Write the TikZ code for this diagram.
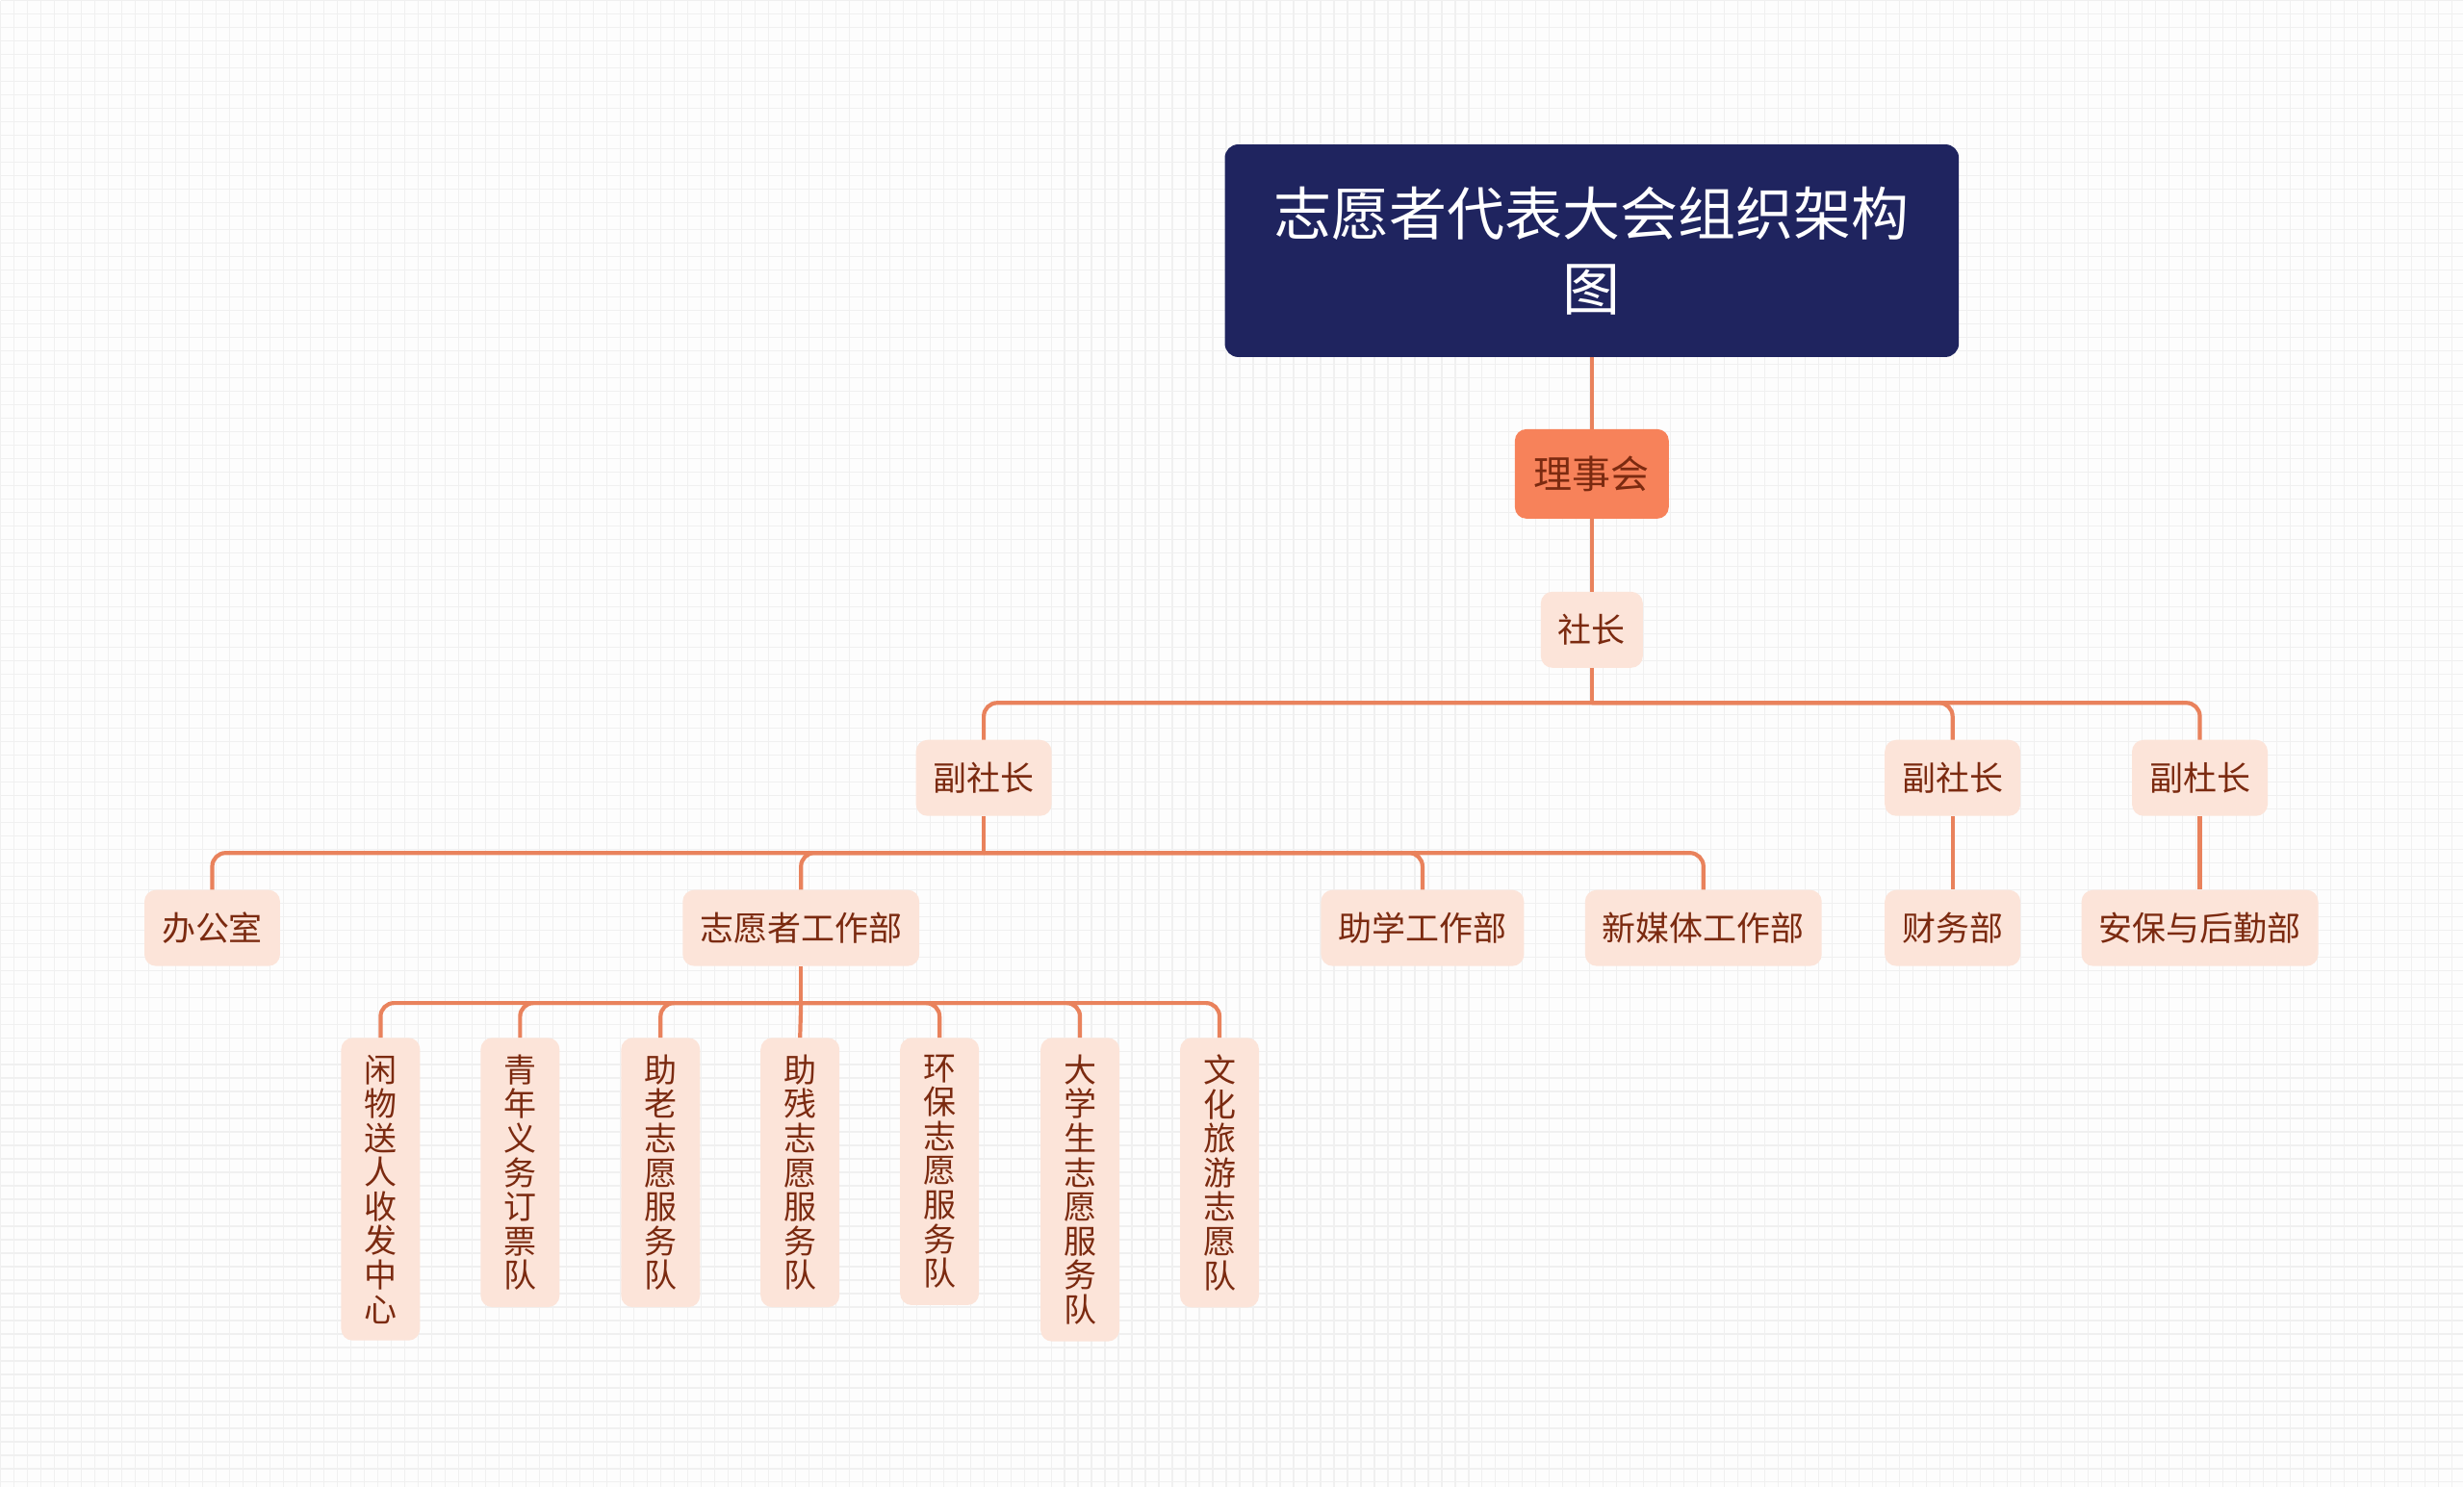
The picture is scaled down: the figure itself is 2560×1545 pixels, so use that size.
\documentclass[tikz,border=0pt]{standalone}
\usepackage{fontspec}
\setmainfont{Noto Sans CJK SC}
\definecolor{navy}{HTML}{1F245F}
\definecolor{rootorange}{HTML}{F7825A}
\definecolor{peach}{HTML}{FCE4D9}
\definecolor{brown}{HTML}{7B2A10}
\definecolor{linkc}{HTML}{E9825C}
\definecolor{bgc}{HTML}{FDFDFD}
\definecolor{gridc}{HTML}{F0F0F0}
\begin{document}
\begin{tikzpicture}[x=1pt,y=-1pt,
  titlebox/.style={fill=navy,text=white,rounded corners=14pt,minimum width=763pt,minimum height=221pt,align=center,font=\fontsize{60}{78}\selectfont,inner sep=0pt},
  councilbox/.style={fill=rootorange,text=brown,rounded corners=12pt,minimum width=160pt,minimum height=93pt,font=\fontsize{40}{48}\selectfont,inner sep=0pt},
  hbox/.style={fill=peach,text=brown,rounded corners=12pt,minimum height=79pt,inner xsep=18pt,inner ysep=0pt,font=\fontsize{35}{42}\selectfont},
  vbox/.style={fill=peach,text=brown,rounded corners=12pt,minimum width=82pt,inner xsep=0pt,inner ysep=17.5pt,align=center,font=\fontsize{34}{35.6}\selectfont,anchor=north},
  link/.style={draw=linkc,line width=4.2pt},
  elbow/.style={draw=linkc,line width=4.2pt,rounded corners=14pt}
]
\fill[bgc] (0,0) rectangle (2560,1545);
\draw[gridc,line width=1.2pt] (0,0) grid[step=14pt] (2560,1545);
\useasboundingbox (0,0) rectangle (2560,1545);

% nodes
\node[titlebox] (title) at (1654,260) {志愿者代表大会组织架构\\图};
\node[councilbox] (council) at (1654,492) {理事会};
\node[hbox] (pres) at (1654,654) {社长};
\node[hbox] (vp1) at (1022,808) {副社长};
\node[hbox] (vp2) at (2029,808) {副社长};
\node[hbox] (vp3) at (2286,808) {副杜长};
\node[hbox] (office) at (220,964) {办公室};
\node[hbox] (volunteer) at (832,964) {志愿者工作部};
\node[hbox] (study) at (1478,964) {助学工作部};
\node[hbox] (media) at (1770,964) {新媒体工作部};
\node[hbox] (finance) at (2029,964) {财务部};
\node[hbox] (security) at (2286,964) {安保与后勤部};

\node[vbox] (t1) at (395,1078) {闲\\物\\送\\人\\收\\发\\中\\心};
\node[vbox] (t2) at (540,1078) {青\\年\\义\\务\\订\\票\\队};
\node[vbox] (t3) at (686,1078) {助\\老\\志\\愿\\服\\务\\队};
\node[vbox] (t4) at (831,1078) {助\\残\\志\\愿\\服\\务\\队};
\node[vbox] (t5) at (976,1078) {环\\保\\志\\愿\\服\\务\\队};
\node[vbox] (t6) at (1122,1078) {大\\学\\生\\志\\愿\\服\\务\\队};
\node[vbox] (t7) at (1267,1078) {文\\化\\旅\\游\\志\\愿\\队};

% bus levels
\coordinate (b1) at (0,730);
\coordinate (b2) at (0,886);
\coordinate (b3) at (0,1042);

% connectors
\draw[link] (title.south) -- (council.north);
\draw[link] (council.south) -- (pres.north);

\draw[link] (pres.south) -- (pres.south |- b1);
\foreach \c in {vp1,vp2,vp3}{
  \draw[elbow] (pres.south |- b1) -| (\c.north);
}

\draw[link] (vp1.south) -- (vp1.south |- b2);
\foreach \c in {office,volunteer,study,media}{
  \draw[elbow] (vp1.south |- b2) -| (\c.north);
}
\draw[link] (vp2.south) -- (finance.north);
\draw[link] (vp3.south) -- (security.north);

\draw[link] (volunteer.south) -- (volunteer.south |- b3);
\foreach \c in {t1,t2,t3,t5,t6,t7}{
  \draw[elbow] (volunteer.south |- b3) -| (\c.north);
}
\draw[link] (volunteer.south |- b3) -- (t4.north);
\end{tikzpicture}
\end{document}
